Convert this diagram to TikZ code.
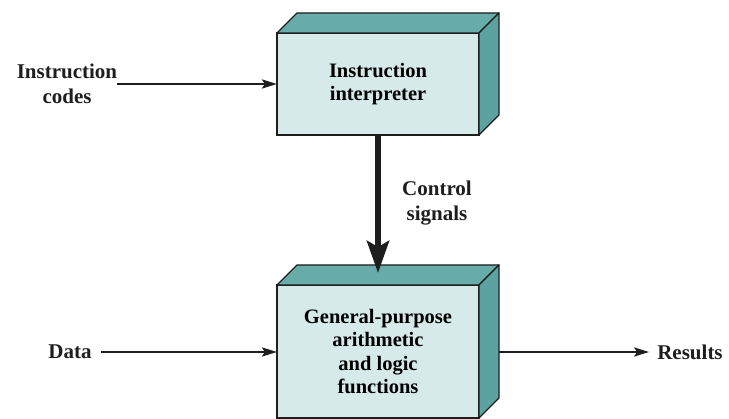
\documentclass[tikz,border=0pt]{standalone}
\usepackage{fontspec}
\setmainfont{Liberation Serif}
\usetikzlibrary{arrows.meta}
\definecolor{facefront}{RGB}{214,234,233}
\definecolor{facetop}{RGB}{104,172,170}
\definecolor{faceside}{RGB}{92,162,160}
\definecolor{ink}{RGB}{30,30,30}
\tikzset{
  block/.style={rectangle, draw=ink, fill=facefront, line width=1.2pt,
    inner sep=0pt, outer sep=0pt, align=center, font=\fontsize{20.5}{23.5}\selectfont\bfseries},
  lbl/.style={inner sep=0pt, align=center, font=\fontsize{21}{25}\selectfont\bfseries, text=ink},
  flow/.style={draw=ink, line width=2.5pt, -{Stealth[length=15pt,width=9pt,inset=3pt]}},
  ctrl/.style={draw=ink, line width=6pt, -{Stealth[length=32pt,width=22pt,inset=6pt]}},
  face/.style={draw=ink, line width=1.2pt, line join=round}
}
% extrude a block into a box: top and right faces
\newcommand{\boxfaces}[2]{%
  \filldraw[face, fill=facetop] (#1.north west) -- ++(#2,-#2) -- ([shift={(#2,-#2)}]#1.north east) -- (#1.north east) -- cycle;
  \filldraw[face, fill=faceside] (#1.north east) -- ++(#2,-#2) -- ([shift={(#2,-#2)}]#1.south east) -- (#1.south east) -- cycle;
}
\begin{document}
\begin{tikzpicture}[x=1pt, y=-1pt]
\useasboundingbox (0,0) rectangle (729,419);

% blocks
\node[block, minimum width=202pt, minimum height=102pt] (interp) at (378,84) {Instruction\\interpreter};
\node[block, minimum width=202pt, minimum height=133pt] (alu) at (378,351.5) {General-purpose\\arithmetic\\and logic\\functions};
\boxfaces{interp}{20}
\boxfaces{alu}{20}

% labels
\node[lbl] (codes) at (67,84) {Instruction\\codes};
\node[lbl] (data) at (70,352) {Data};
\node[lbl] (results) at (690,352) {Results};
\node[lbl] (signals) at (437,203) {Control\\signals};

% connectors
\coordinate (aluin) at ([yshift=12pt]alu.north);
\coordinate (aluout) at ([xshift=20pt]alu.east |- data);
\draw[flow] (codes) -- (interp);
\draw[flow, shorten <=9pt] (data) -- (alu.west |- data);
\draw[flow, shorten >=8pt] (aluout) -- (results);
\draw[ctrl] (interp.south) -- (aluin);
\end{tikzpicture}
\end{document}
